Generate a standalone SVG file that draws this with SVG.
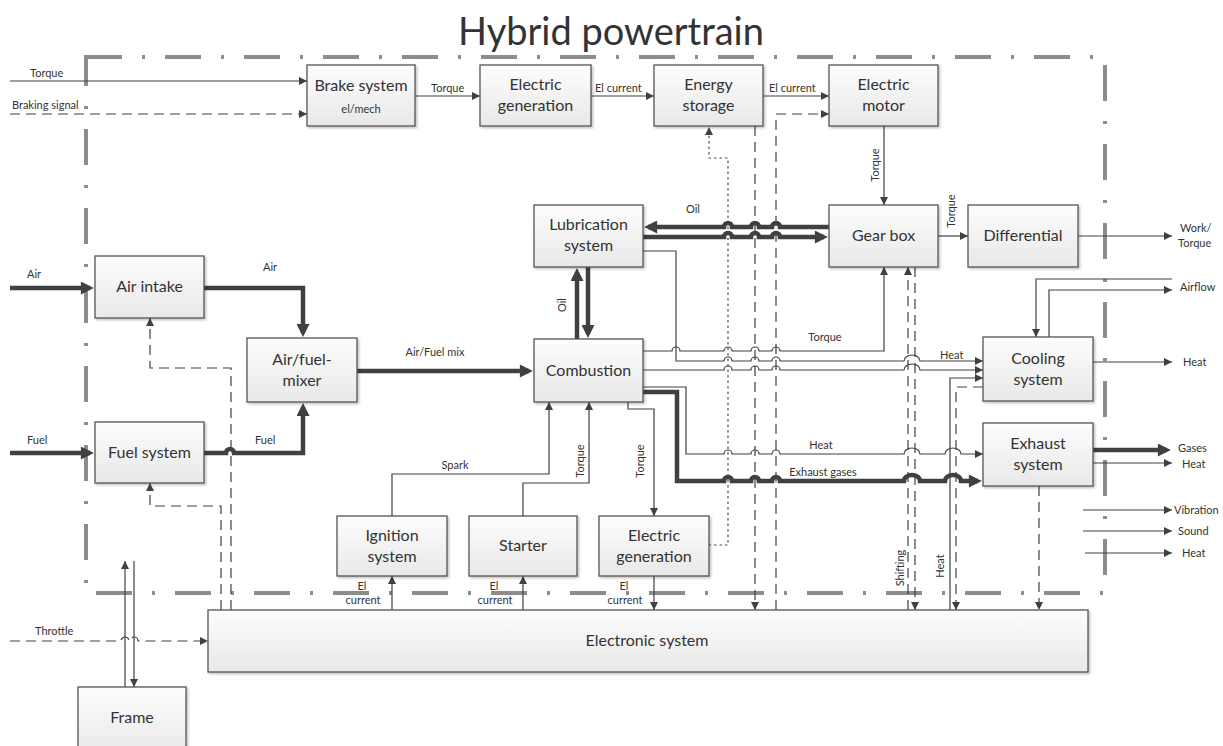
<svg xmlns="http://www.w3.org/2000/svg" width="1223" height="746" viewBox="0 0 1223 746">
<defs>
<linearGradient id="g" x1="0" y1="0" x2="0" y2="1"><stop offset="0" stop-color="#fdfdfd"/><stop offset="1" stop-color="#e8e8e8"/></linearGradient>
<filter id="sh" x="-5%" y="-5%" width="115%" height="125%"><feDropShadow dx="1.5" dy="1.5" stdDeviation="1" flood-color="#000" flood-opacity="0.25"/></filter>
<marker id="a" viewBox="0 0 10 10" refX="10" refY="5" markerWidth="9" markerHeight="8" markerUnits="userSpaceOnUse" orient="auto"><path d="M0,0 L10,5 L0,10 z" fill="#404040"/></marker>
<marker id="A" viewBox="0 0 10 10" refX="7" refY="5" markerWidth="16" markerHeight="13" markerUnits="userSpaceOnUse" orient="auto"><path d="M0,0 L10,5 L0,10 z" fill="#404040"/></marker>
</defs>
<style>
.box{fill:url(#g);stroke:#555;stroke-width:1.3;filter:url(#sh)}
.bt{font-family:Lato,"Open Sans",sans-serif;font-size:16px;fill:#333;text-anchor:middle}
.lb{font-family:Lato,"Open Sans",sans-serif;font-size:11px;fill:#333}
.m{text-anchor:middle}
.c{fill:none;stroke:#404040;stroke-width:1.2}
.k{stroke-width:4.5}
.d{stroke-dasharray:10 6}
.o{stroke-dasharray:1.5 4;stroke-linecap:round}
.ar{marker-end:url(#a)}
.AR{marker-end:url(#A)}
.bd{fill:none;stroke:#8c8c8c;stroke-width:4;stroke-dasharray:36 20 3 20}
</style>
<rect width="1223" height="746" fill="#fff"/>
<text x="611" y="45" font-family="Lato,'Open Sans',sans-serif" font-size="38" fill="#333" text-anchor="middle">Hybrid powertrain</text>
<rect id="boundary" class="bd" x="86" y="57" width="1019" height="536"/>

<g id="connectors">
<path class="c ar" d="M10,81 H307"/>
<path class="c d ar" d="M10,114 H307"/>
<path class="c ar" d="M415,96 H480"/>
<path class="c ar" d="M591,96 H654"/>
<path class="c ar" d="M763,96 H829"/>
<path class="c d ar" d="M776,610 V114 H829"/>
<path class="c d ar" d="M755,126 V610"/>
<path class="c o ar" d="M709,545 H728 V158 H709 V127"/>
<path class="c ar" d="M884,126 V205"/>
<path class="c ar" d="M938,236 H968"/>
<path class="c ar" d="M1078,236 H1172"/>
<path class="c k AR" d="M829,227 H780 a4,4 0 0 0 -8,0 H759 a4,4 0 0 0 -8,0 H732 a4,4 0 0 0 -8,0 H648"/>
<path class="c k AR" d="M643,237 H724 a4,4 0 0 1 8,0 H751 a4,4 0 0 1 8,0 H772 a4,4 0 0 1 8,0 H824"/>
<path class="c k AR" d="M577,339 V272"/>
<path class="c k AR" d="M588,267 V334"/>
<path class="c k AR" d="M10,288 H90"/>
<path class="c k AR" d="M204,288 H303 V333"/>
<path class="c k AR" d="M10,453 H90"/>
<path class="c k AR" d="M204,453 H226 a4,4 0 0 1 8,0 H303 V407"/>
<path class="c k AR" d="M357,371 H529"/>
<path class="c d ar" d="M231,610 V368 H150 V318"/>
<path class="c d ar" d="M221,610 V506 H150 V483"/>
<path class="c d ar" d="M10,641 H121 a4,4 0 0 1 8,0 H130 a4,4 0 0 1 8,0 H208"/>
<path class="c ar" d="M125,687 V561"/>
<path class="c ar" d="M134,561 V687"/>
<path class="c ar" d="M392,516 V474 H549 V402"/>
<path class="c ar" d="M523,516 V483 H589 V402"/>
<path class="c ar" d="M628,402 V409 H654 V516"/>
<path class="c ar" d="M392,610 V576"/>
<path class="c ar" d="M523,610 V576"/>
<path class="c ar" d="M654,576 V610"/>
<path class="c ar" d="M643,351 H672 a4,4 0 0 1 8,0 H724 a4,4 0 0 1 8,0 H751 a4,4 0 0 1 8,0 H772 a4,4 0 0 1 8,0 H884 V267"/>
<path class="c ar" d="M643,251 H676 V361 H724 a4,4 0 0 1 8,0 H751 a4,4 0 0 1 8,0 H772 a4,4 0 0 1 8,0 H904 a8,6 0 0 1 16,0 H983"/>
<path class="c ar" d="M643,370 H724 a4,4 0 0 1 8,0 H751 a4,4 0 0 1 8,0 H772 a4,4 0 0 1 8,0 H904 a8,6 0 0 1 16,0 H983"/>
<path class="c ar" d="M950,610 V378 H983"/>
<path class="c d ar" d="M983,387 H956 V610"/>
<path class="c d ar" d="M908,610 V267"/>
<path class="c d ar" d="M915,267 V610"/>
<path class="c ar" d="M643,387 H686 V454 H724 a4,4 0 0 1 8,0 H751 a4,4 0 0 1 8,0 H772 a4,4 0 0 1 8,0 H904 a8,6 0 0 1 16,0 H945 a8,6 0 0 1 16,0 H983"/>
<path class="c k AR" d="M643,392 H677 V481 H724 a4,4 0 0 1 8,0 H751 a4,4 0 0 1 8,0 H772 a4,4 0 0 1 8,0 H904 a8,6 0 0 1 16,0 H945 a8,6 0 0 1 16,0 H978"/>
<path class="c k AR" d="M1093,450 H1167"/>
<path class="c ar" d="M1093,463 H1172"/>
<path class="c d ar" d="M1039,486 V610"/>
<path class="c ar" d="M1093,362 H1172"/>
<path class="c ar" d="M1172,279 H1036 V337"/>
<path class="c ar" d="M1049,337 V290 H1172"/>
<path class="c ar" d="M1083,510 H1172"/>
<path class="c ar" d="M1083,531 H1172"/>
<path class="c ar" d="M1085,553 H1172"/>
</g>

<g id="labels">
<text class="lb" x="30" y="77">Torque</text>
<text class="lb" x="12" y="109">Braking signal</text>
<text class="lb" x="431" y="92">Torque</text>
<text class="lb" x="595" y="92">El current</text>
<text class="lb" x="769" y="92">El current</text>
<text class="lb m" transform="translate(879,165) rotate(-90)">Torque</text>
<text class="lb m" transform="translate(955,211) rotate(-90)">Torque</text>
<text class="lb" x="1180" y="232">Work/</text>
<text class="lb" x="1178" y="247">Torque</text>
<text class="lb" x="686" y="213">Oil</text>
<text class="lb m" transform="translate(566,305) rotate(-90)">Oil</text>
<text class="lb" x="27" y="278">Air</text>
<text class="lb" x="263" y="271">Air</text>
<text class="lb" x="27" y="444">Fuel</text>
<text class="lb" x="255" y="444">Fuel</text>
<text class="lb m" x="435" y="356">Air/Fuel mix</text>
<text class="lb" x="35" y="635">Throttle</text>
<text class="lb m" x="455" y="469">Spark</text>
<text class="lb m" transform="translate(584,461) rotate(-90)">Torque</text>
<text class="lb m" transform="translate(644,461) rotate(-90)">Torque</text>
<text class="lb m" x="362" y="590">El</text>
<text class="lb m" x="363" y="604">current</text>
<text class="lb m" x="494" y="590">El</text>
<text class="lb m" x="495" y="604">current</text>
<text class="lb m" x="624" y="590">El</text>
<text class="lb m" x="625" y="604">current</text>
<text class="lb m" x="825" y="341">Torque</text>
<text class="lb" x="940" y="359">Heat</text>
<text class="lb m" x="821" y="449">Heat</text>
<text class="lb m" x="823" y="476">Exhaust gases</text>
<text class="lb m" transform="translate(904,568) rotate(-90)">Shifting</text>
<text class="lb m" transform="translate(944,566) rotate(-90)">Heat</text>
<text class="lb" x="1180" y="291">Airflow</text>
<text class="lb" x="1183" y="366">Heat</text>
<text class="lb" x="1178" y="452">Gases</text>
<text class="lb" x="1182" y="468">Heat</text>
<text class="lb" x="1174" y="514">Vibration</text>
<text class="lb" x="1178" y="535">Sound</text>
<text class="lb" x="1182" y="557">Heat</text>
</g>

<g id="brake"><rect class="box" x="307" y="65" width="108" height="61"/><text class="bt" x="361" y="91">Brake system</text><text class="lb m" x="361" y="113">el/mech</text></g>
<g id="elgen-top"><rect class="box" x="480" y="65" width="111" height="61"/><text class="bt" x="535.5" y="90">Electric</text><text class="bt" x="535.5" y="111">generation</text></g>
<g id="storage"><rect class="box" x="654" y="65" width="109" height="61"/><text class="bt" x="708.5" y="90">Energy</text><text class="bt" x="708.5" y="111">storage</text></g>
<g id="motor"><rect class="box" x="829" y="65" width="109" height="61"/><text class="bt" x="883.5" y="90">Electric</text><text class="bt" x="883.5" y="111">motor</text></g>
<g id="lubrication"><rect class="box" x="534" y="205" width="109" height="62"/><text class="bt" x="588.5" y="230">Lubrication</text><text class="bt" x="588.5" y="251">system</text></g>
<g id="gearbox"><rect class="box" x="829" y="205" width="109" height="62"/><text class="bt" x="883.5" y="241">Gear box</text></g>
<g id="differential"><rect class="box" x="968" y="205" width="110" height="62"/><text class="bt" x="1023" y="241">Differential</text></g>
<g id="airintake"><rect class="box" x="95" y="256" width="109" height="62"/><text class="bt" x="149.5" y="292">Air intake</text></g>
<g id="mixer"><rect class="box" x="247" y="338" width="110" height="64"/><text class="bt" x="302" y="365">Air/fuel-</text><text class="bt" x="302" y="386">mixer</text></g>
<g id="fuel"><rect class="box" x="95" y="422" width="109" height="61"/><text class="bt" x="149.5" y="458">Fuel system</text></g>
<g id="combustion"><rect class="box" x="534" y="339" width="109" height="63"/><text class="bt" x="588.5" y="376">Combustion</text></g>
<g id="cooling"><rect class="box" x="983" y="337" width="110" height="64"/><text class="bt" x="1038" y="364">Cooling</text><text class="bt" x="1038" y="385">system</text></g>
<g id="exhaust"><rect class="box" x="983" y="423" width="110" height="63"/><text class="bt" x="1038" y="449">Exhaust</text><text class="bt" x="1038" y="470">system</text></g>
<g id="ignition"><rect class="box" x="337" y="516" width="110" height="60"/><text class="bt" x="392" y="541">Ignition</text><text class="bt" x="392" y="562">system</text></g>
<g id="starter"><rect class="box" x="469" y="516" width="108" height="60"/><text class="bt" x="523" y="551">Starter</text></g>
<g id="elgen-bottom"><rect class="box" x="599" y="516" width="110" height="60"/><text class="bt" x="654" y="541">Electric</text><text class="bt" x="654" y="562">generation</text></g>
<g id="electronic"><rect class="box" x="208" y="610" width="880" height="62"/><text class="bt" x="647" y="646">Electronic system</text></g>
<g id="frame"><rect class="box" x="78" y="687" width="108" height="70"/><text class="bt" x="132" y="723">Frame</text></g>
</svg>
